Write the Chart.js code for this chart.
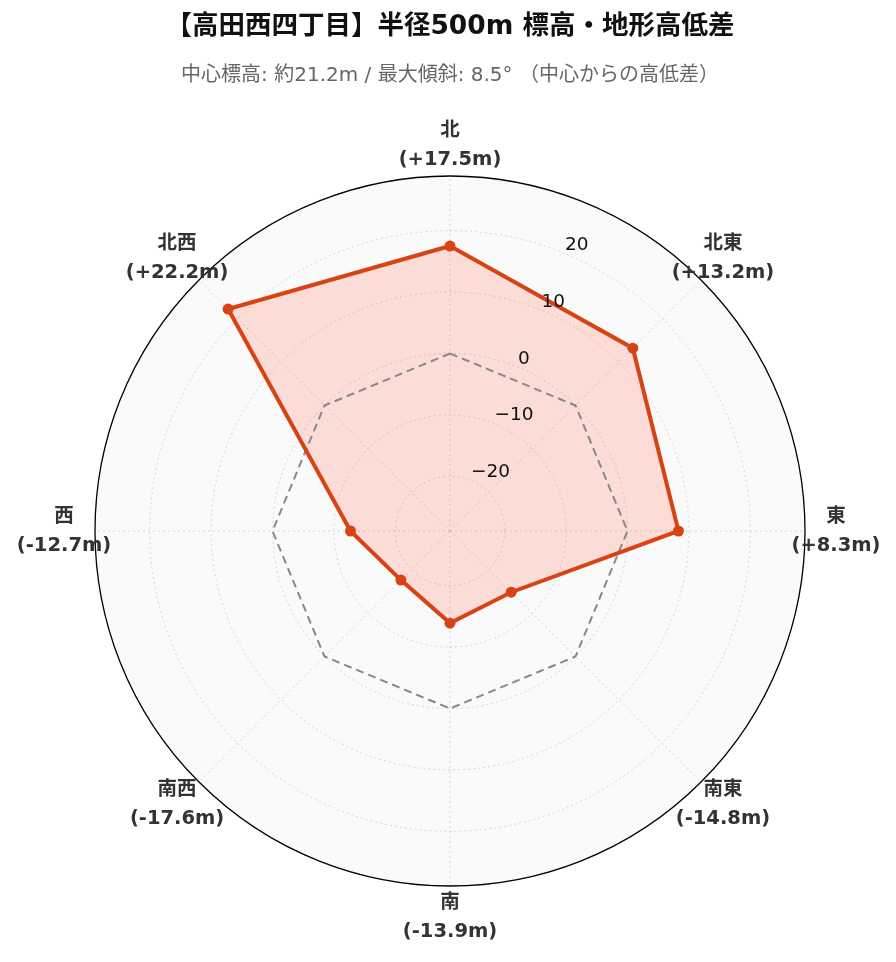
<!DOCTYPE html>
<html>
<head>
<meta charset="utf-8">
<script src="https://cdn.jsdelivr.net/npm/chart.js@4.4.0/dist/chart.umd.min.js"></script>
<style>
  html, body { margin: 0; padding: 0; background: #fff; }
  #contenedor { width: 896px; height: 962px; }
</style>
</head>
<body>
<div id="contenedor"><canvas id="radar"></canvas></div>
<script>
// datos
const direcciones = ["北", "北東", "東", "南東", "南", "南西", "西", "北西"];
const diferencias = [17.5, 13.2, 8.3, -14.8, -13.9, -17.6, -12.7, 22.2];
const lineaCero = [0, 0, 0, 0, 0, 0, 0, 0];
const marcasRadiales = [-20, -10, 0, 10, 20];
const rangoMin = -28.9;
const rangoMax = 28.9;

const fuente = "'DejaVu Sans', 'Noto Sans CJK JP', sans-serif";
const colorLinea = "#d84315";

const etiquetas = direcciones.map((d, i) => {
  const v = diferencias[i];
  return [d, "(" + (v > 0 ? "+" : "") + v.toFixed(1) + "m)"];
});

// fondo gris claro dentro del círculo
const fondoCirculo = {
  id: "fondoCirculo",
  beforeDraw(chart) {
    const r = chart.scales.r;
    const ctx = chart.ctx;
    ctx.save();
    ctx.beginPath();
    ctx.arc(r.xCenter, r.yCenter, r.drawingArea, 0, Math.PI * 2);
    ctx.fillStyle = "#fafafa";
    ctx.fill();
    ctx.restore();
  },
};

// etiquetas radiales a 22.5° y etiquetas de dirección centradas
const textosPolares = {
  id: "textosPolares",
  afterDatasetsDraw(chart) {
    const r = chart.scales.r;
    const ctx = chart.ctx;
    ctx.save();
    const ang = (22.5 * Math.PI) / 180;
    ctx.font = "18.5px " + fuente;
    ctx.fillStyle = "#111";
    ctx.textAlign = "left";
    ctx.textBaseline = "bottom";
    marcasRadiales.forEach((v) => {
      const d = r.getDistanceFromCenterForValue(v);
      const x = r.xCenter + Math.sin(ang) * d;
      const y = r.yCenter - Math.cos(ang) * d;
      ctx.fillText(String(v).replace("-", "\u2212"), x, y + 1);
    });

    ctx.font = "bold 19.5px " + fuente;
    ctx.fillStyle = "#333";
    ctx.textAlign = "center";
    ctx.textBaseline = "middle";
    etiquetas.forEach((lineas, i) => {
      const p = r.getPointPosition(i, r.drawingArea + 31);
      ctx.fillText(lineas[0], p.x, p.y - 14.5);
      ctx.fillText(lineas[1], p.x, p.y + 14.5);
    });
    ctx.restore();
  },
};

new Chart(document.getElementById("radar").getContext("2d"), {
  type: "radar",
  data: {
    labels: direcciones,
    datasets: [
      {
        label: "高低差",
        data: diferencias,
        borderColor: colorLinea,
        backgroundColor: "rgba(255, 99, 71, 0.2)",
        borderWidth: 4,
        pointRadius: 5.5,
        pointBorderWidth: 0,
        pointBackgroundColor: colorLinea,
        fill: "start",
      },
      {
        label: "中心",
        data: lineaCero,
        borderColor: "#888",
        borderDash: [8, 5],
        borderWidth: 2,
        pointRadius: 0,
        fill: false,
      },
    ],
  },
  options: {
    responsive: true,
    maintainAspectRatio: false,
    animation: false,
    layout: { padding: { left: 95, right: 91, top: 0, bottom: 75.5 } },
    plugins: {
      legend: { display: false },
      tooltip: { enabled: false },
      filler: { drawTime: "beforeDatasetsDraw" },
      title: {
        display: true,
        text: "【高田西四丁目】半径500m 標高・地形高低差",
        color: "#111",
        font: { size: 26.5, weight: "bold", family: fuente },
        padding: { top: 11, bottom: 21 },
      },
      subtitle: {
        display: true,
        text: "中心標高: 約21.2m / 最大傾斜: 8.5° （中心からの高低差）",
        color: "#666",
        font: { size: 20, family: fuente },
        padding: { top: 0, bottom: 88.5 },
      },
    },
    scales: {
      r: {
        min: rangoMin,
        max: rangoMax,
        afterBuildTicks: (scale) => {
          scale.ticks = [rangoMin, ...marcasRadiales, rangoMax].map((v) => ({ value: v }));
        },
        ticks: { display: false },
        pointLabels: { display: false },
        grid: {
          circular: true,
          color: (ctx) => (ctx.tick && ctx.tick.value === rangoMax ? "#000" : "#d4d4d4"),
          lineWidth: (ctx) => (ctx.tick && ctx.tick.value === rangoMax ? 1.3 : 1),
        },
        border: {
          dash: (ctx) => (ctx.tick && ctx.tick.value === rangoMax ? [] : [2, 3]),
        },
        angleLines: { color: "#d4d4d4", lineWidth: 1, borderDash: [2, 3] },
      },
    },
  },
  plugins: [fondoCirculo, textosPolares],
});
</script>
</body>
</html>
